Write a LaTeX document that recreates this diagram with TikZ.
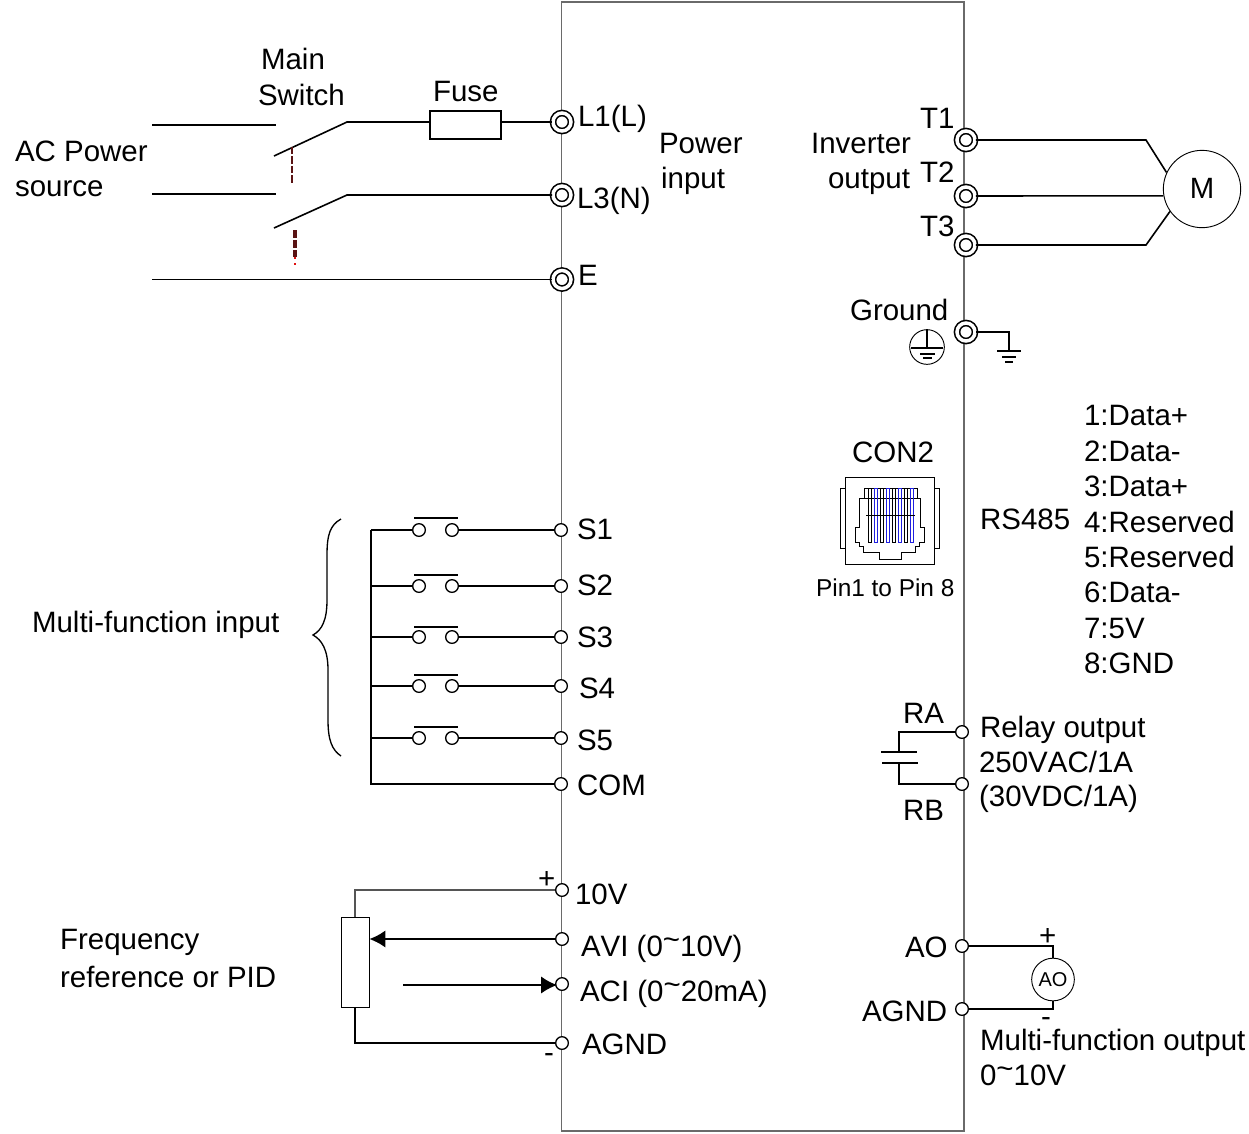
\documentclass[tikz,border=0pt]{standalone}
\usepackage{fontspec}
\setmainfont[Kerning=Off]{Liberation Sans}
\usepackage{xcolor}
\usetikzlibrary{arrows.meta, calc}
\definecolor{boxgray}{HTML}{6A6A6A}
\definecolor{wiregray}{HTML}{555555}
\definecolor{linkdark}{HTML}{5A1414}
\definecolor{linkred}{HTML}{E01010}
\definecolor{pinblue}{HTML}{2020E0}
\newcommand{\tld}{\raisebox{0.22em}{\textasciitilde}}
\tikzset{
  lbl/.style={anchor=base west, inner sep=0pt, xshift=-0.15pt, font=\fontsize{22.1}{22}\selectfont},
  wire/.style={black, line width=1.2pt},
  thin wire/.style={wiregray, line width=0.9pt},
  bigterm/.style={circle, draw=black, fill=white, line width=1.2pt, double=white, double distance=2.6pt, minimum size=13.5pt, inner sep=0pt},
  smallterm/.style={circle, draw=black, fill=white, line width=1pt, minimum size=9.5pt, inner sep=0pt}
}
\begin{document}
\begin{tikzpicture}[x=0.75pt, y=-0.75pt]
  \useasboundingbox (0,0) rectangle (1249,1133);

  % Inverter body
  \draw[boxgray, line width=1.1pt] (561.5,2) rectangle (964,1131);

  % Terminals
  \foreach \name/\x/\y in {L1/562/122, L3/562/195, E/562/279.5, T1/966/140, T2/966/196, T3/966/245, GND/966/332} {
    \node[bigterm] (\name) at (\x,\y) {};
  }
  \foreach \name/\x/\y in {S1/561/530, S2/561/586, S3/561/637, S4/561/686, S5/561/738, COM/561/784, TenV/562/890, AVI/562/939, ACI/562/984, AGNDin/562/1043, RA/962/732, RB/962/784, AO/962/946, AGNDout/962/1009} {
    \node[smallterm] (\name) at (\x,\y) {};
  }

  % Power input
  \node[draw, black, line width=1.7pt, minimum width=53pt, minimum height=21pt, inner sep=0pt] (fuse) at (465.5,125) {};
  \coordinate (lineA) at (152,125);
  \coordinate (lineAend) at (276,125);
  \coordinate (lineB) at (152,194);
  \coordinate (lineBend) at (276,194);
  \coordinate (lineE) at (152,279.5);
  \coordinate (bladeA) at (274,156);
  \coordinate (kneeA) at (347,122);
  \coordinate (bladeB) at (274,228);
  \coordinate (kneeB) at (347,195);
  \draw[wire] (lineA) -- (lineAend);
  \draw[wire] (lineB) -- (lineBend);
  \draw[wire, line width=1.4pt] (lineE) -- (E);
  \draw[wire] (bladeA) -- (kneeA) -- (kneeA -| fuse.west);
  \draw[wire] (kneeA -| fuse.east) -- (L1);
  \draw[wire] (bladeB) -- (kneeB) -- (L3);
  \draw[linkdark, line width=2.2pt, dash pattern=on 5.5pt off 1.6pt] (292,147) -- (292,183);
  \draw[linkdark, line width=2.4pt, dash pattern=on 6pt off 1.5pt] (295,230) -- (295,257);
  \draw[linkred, line width=1.2pt, dash pattern=on 1.5pt off 3pt] (295,257) -- (295,266);

  % Motor output
  \node[circle, draw, black, line width=0.7pt, minimum size=58pt, inner sep=0pt] (motor) at (1202,189) {};
  \coordinate (kneeT1) at (1146,140);
  \coordinate (kneeT3) at (1146,245);
  \draw[wire] (T1) -- (kneeT1) -- (motor.155);
  \draw[wire] (T2) -- (motor.190);
  \draw[wire] (T3) -- (kneeT3) -- (motor.215);

  % Earth
  \coordinate (earth) at (1009,351);
  \draw[wire] (GND) -| (earth);
  \draw[wire] (997,351) -- (1021,351);
  \draw[wire] (1002,357) -- (1016,357);
  \draw[wire] (1005,362) -- (1013,362);
  \node[circle, draw, black, line width=0.7pt, minimum size=26pt, inner sep=0pt] (earthmark) at (927,347) {};
  \draw[wire, line width=0.8pt] (earthmark.north) -- (927,348);
  \draw[wire, line width=0.8pt] (911,348) -- (943,348);
  \draw[wire, line width=0.8pt] (920,354) -- (935,354);
  \draw[wire, line width=0.8pt] (923,358) -- (932,358);

  % Digital inputs
  \coordinate (bus) at (371,530);
  \draw[wire, line width=1.3pt] (COM) -| (bus);
  \foreach \name/\y/\b in {S1/530/518, S2/586/575, S3/637/627, S4/686/675, S5/738/727} {
    \node[smallterm] (a\name) at (419,\y) {};
    \node[smallterm] (b\name) at (452,\y) {};
    \draw[wire] (bus |- \name) -- (a\name);
    \draw[wire] (b\name) -- (\name);
    \draw[wire] (414,\b) -- (458,\b);
  }
  \draw[black, line width=1pt] (341,519) .. controls (330,525) and (327,535) .. (327,555) -- (327,600) .. controls (327,620) and (322,630) .. (313,635) .. controls (322,640) and (328,650) .. (328,670) -- (328,720) .. controls (328,740) and (332,750) .. (341,756);

  % Analog inputs
  \node[draw, black, line width=0.7pt, fill=white, minimum width=21pt, minimum height=68pt, inner sep=0pt] (pot) at (355,962.5) {};
  \coordinate (aciStart) at (403,985);
  \draw[thin wire] (TenV) -| (pot.north);
  \draw[thin wire, black] (AGNDin) -| (pot.south);
  \draw[wire, -{Latex[length=12pt, width=13pt]}] (AVI) -- (AVI -| pot.east);
  \draw[wire, shorten >=-1.5pt, -{Latex[length=12pt, width=13pt]}] (aciStart) -- (aciStart -| ACI.west);

  % Relay
  \coordinate (capTop) at (899,752);
  \coordinate (capBot) at (899,763);
  \draw[wire] (RA) -| (capTop);
  \draw[wire] (RB) -| (capBot);
  \draw[wire] (881,752) -- (917,752);
  \draw[wire] (882,763) -- (918,763);

  % Analog output
  \node[circle, draw, black, line width=0.7pt, minimum size=32pt, inner sep=0pt, font=\fontsize{15}{15}\selectfont] (meter) at (1053,979.5) {AO};
  \draw[thin wire, black] (AO) -| (meter.north);
  \draw[thin wire, black] (AGNDout) -| (meter.south);

  % RJ45 connector
  \draw[black, line width=0.6pt] (845,477) rectangle (934,564);
  \draw[black, line width=0.5pt] (845,488) -- (840,488) -- (840,548) -- (845,548);
  \draw[black, line width=0.5pt] (934,488) -- (939,488) -- (939,548) -- (934,548);
  \draw[black, line width=0.5pt] (859,498) -- (920,498) -- (920,527) -- (924,527) -- (924,542) -- (919,542) -- (919,546) -- (915,546) -- (915,552) -- (901,552) -- (901,559) -- (879,559) -- (879,552) -- (863,552) -- (863,546) -- (859,546) -- (859,542) -- (855,542) -- (855,527) -- (859,527) -- cycle;
  \draw[black, line width=0.5pt] (864,488) -- (917,488);
  \draw[black, line width=0.5pt] (864,488) -- (864,498);
  \draw[black, line width=0.5pt] (917,488) -- (917,498);
  \foreach \x/\col in {868/black, 874/pinblue, 880/black, 886/pinblue, 892/black, 898/pinblue, 904/black, 910/pinblue} {
    \draw[\col, line width=0.6pt] (\x,488) rectangle (\x+3.5,542);
  }
  \draw[black, line width=0.4pt] (866,515) -- (915,515);

  % Labels
  \foreach \name/\x/\y/\txt in {
    tMain/261/69/Main, tSwitch/258/105/Switch, tFuse/433/101/Fuse,
    tAC/15/161/AC Power, tSource/15/196/source,
    tLa/578/126/L1(L), tLc/577/208/L3(N), tE/578/285/E,
    tPower/659/153/Power, tInput/661/188/input,
    tInv/811/153/Inverter, tOut/828/188/output,
    tTa/920/128/T1, tTb/920/182/T2, tTc/920/236/T3,
    tGround/850/320/Ground, tCon/852/462/CON2, tRS/980/529/RS485,
    tPa/1084/425/1:Data+, tPb/1084/461/2:Data-, tPc/1084/496/3:Data+, tPd/1084/532/4:Reserved,
    tPe/1084/567/5:Reserved, tPf/1084/602/6:Data-, tPg/1084/638/7:5V, tPh/1084/673/8:GND,
    tRA/903/723/RA, tRB/903/820/RB, tRelay/980/737/Relay output,
    tRelayB/979/772/{250VAC/1A}, tRelayC/979/806/{(30VDC/1A)},
    tMulti/32/632/Multi-function input,
    tSa/577/539/S1, tSb/577/595/S2, tSc/577/647/S3, tSd/579/698/S4, tSe/577/750/S5, tCOM/577/795/COM,
    tTen/575/904/10V, tAVI/581/956/{AVI (0\tld10V)}, tACI/580/1001/{ACI (0\tld20mA)}, tAGa/582/1054/AGND,
    tFreq/60/949/Frequency, tRef/60/987/reference or PID,
    tPlus/538/888/+, tMinus/544/1062/-,
    tAO/905/957/AO, tAGb/862/1021/AGND,
    tMfo/980/1050/Multi-function output, tRange/980/1085/{0\tld10V},
    tPlusb/1039/945/+, tMinusb/1041/1026/-} {
    \node[lbl] (\name) at (\x,\y) {\txt};
  }
  \node[font=\fontsize{22}{22}\selectfont] (tM) at (1202,188) {M};
  \node[lbl, font=\fontsize{18.3}{18.3}\selectfont] (tPin) at (816,596) {Pin1 to Pin 8};
\end{tikzpicture}
\end{document}
